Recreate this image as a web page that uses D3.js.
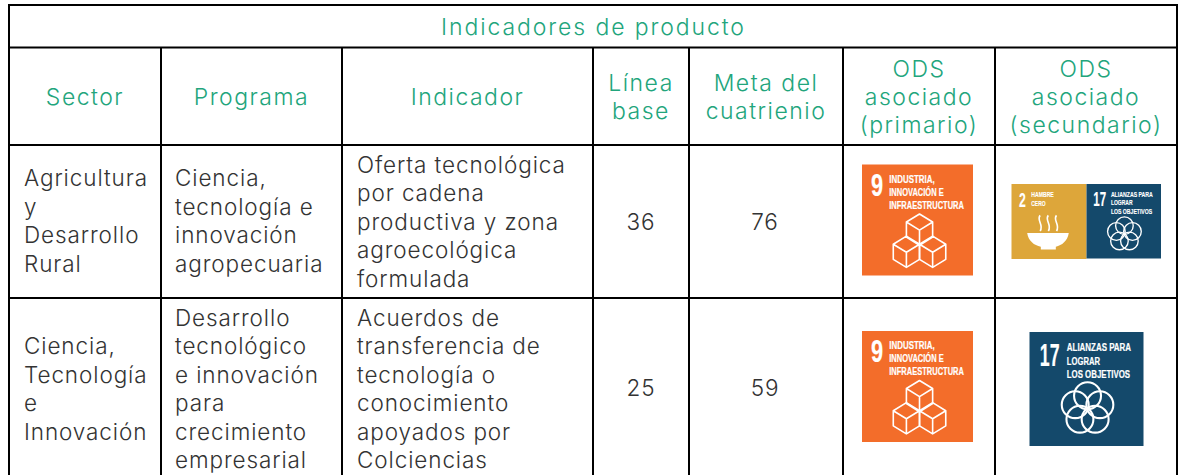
<!DOCTYPE html>
<html>
<head>
<meta charset="utf-8">
<script src="https://cdn.jsdelivr.net/npm/d3@7"></script>
<style>
html, body { margin: 0; padding: 0; background: #fff; overflow: hidden; }
svg { display: block; }
text { font-family: "Inter", sans-serif; font-weight: 300; }
.logoText { font-family: "Liberation Sans Narrow", "Liberation Sans", sans-serif; font-weight: 700; fill: #fff; stroke: #fff; stroke-width: 0.2; }
</style>
</head>
<body>
<div id="chart"></div>
<script>
const title = "Indicadores de producto";
const headers = [["Sector"], ["Programa"], ["Indicador"], ["Línea", "base"], ["Meta del", "cuatrienio"], ["ODS", "asociado", "(primario)"], ["ODS", "asociado", "(secundario)"]];
const sectors = [["Agricultura", "y", "Desarrollo", "Rural"], ["Ciencia,", "Tecnología", "e", "Innovación"]];
const programs = [["Ciencia,", "tecnología e", "innovación", "agropecuaria"], ["Desarrollo", "tecnológico", "e innovación", "para", "crecimiento", "empresarial"]];
const indicators = [["Oferta tecnológica", "por cadena", "productiva y zona", "agroecológica", "formulada"], ["Acuerdos de", "transferencia de", "tecnología o", "conocimiento", "apoyados por", "Colciencias"]];
const baseline = [36, 25];
const target = [76, 59];
const primaryOds = [[9], [9]];
const secondaryOds = [[2, 17], [17]];

const odsNames = {
    2: ["HAMBRE", "CERO"],
    9: ["INDUSTRIA,", "INNOVACIÓN E", "INFRAESTRUCTURA"],
    17: ["ALIANZAS PARA", "LOGRAR", "LOS OBJETIVOS"]
};
const odsColors = {2: "#dda63a", 9: "#f36d2a", 17: "#14496b"};

const green = "#22a57c";
const ink = "#333333";

const xLines = [9, 161, 342, 593, 689, 843, 995, 1177];
const yLines = [5, 47.5, 145, 298, 490];

// logo layout, all in a 110 box
const logoNum = {2: [11, 10, 33], 9: [9, 12, 31], 17: [10, 19, 33]};
const logoNameX = {2: 29, 9: 27, 17: 36};
const logoNameW = {2: [33, 21], 9: [45, 54, 74], 17: [62, 32, 61]};
const logoNameY = {2: [18.5, 32], 9: [18, 31, 44], 17: [18.5, 31.5, 44.5]};

const svg = d3.select("#chart").append("svg").attr("width", 1179).attr("height", 475);

function drawLines(g, lines, x, y, size, color, lead, anchor, spacing) {
    let startY = y - (lines.length - 1) * lead / 2;
    g.append("g").selectAll("text").data(lines).join("text")
        .attr("x", x)
        .attr("y", (d, i) => startY + i * lead)
        .attr("dy", "0.35em")
        .attr("text-anchor", anchor)
        .attr("font-size", size)
        .attr("letter-spacing", spacing)
        .attr("fill", color)
        .text(d => d);
}

// grid
const grid = svg.append("g").attr("stroke", "#000").attr("stroke-width", 2);
grid.selectAll("line.h").data(yLines.slice(0, 4)).join("line")
    .attr("x1", xLines[0] - 1).attr("x2", xLines[7] + 1)
    .attr("y1", d => d).attr("y2", d => d);
grid.selectAll("line.v").data(xLines).join("line")
    .attr("x1", d => d).attr("x2", d => d)
    .attr("y1", (d, i) => (i == 0 || i == 7) ? yLines[0] : yLines[1])
    .attr("y2", yLines[4]);

const txt = svg.append("g");
drawLines(txt, [title], 593.5, 27, 23, green, 0, "middle", 1.9);

headers.forEach((h, i) => {
    drawLines(txt, h, (xLines[i] + xLines[i + 1]) / 2, 97, 23, green, 28, "middle", 1.5);
});

const rowMid = [222, 388.5];
[0, 1].forEach(r => {
    drawLines(txt, sectors[r], 24, [221, 389][r], 22.5, ink, 28.5, "start", 0.9);
    drawLines(txt, programs[r], 175, [221, 389][r], 22.5, ink, 28.5, "start", 0.9);
    drawLines(txt, indicators[r], 357, [222, 389][r], 22.5, ink, 28.5, "start", 0.9);
    drawLines(txt, [String(baseline[r])], 641, rowMid[r], 22.5, ink, 28.5, "middle", 0.9);
    drawLines(txt, [String(target[r])], 765, rowMid[r], 22.5, ink, 28.5, "middle", 0.9);
});

function drawOds(parent, goal, x, y, size) {
    const k = size / 110;
    const g = parent.append("g").attr("transform", `translate(${x},${y}) scale(${k})`);
    g.append("rect").attr("width", 110).attr("height", 110).attr("fill", odsColors[goal]);
    g.append("text").attr("class", "logoText").attr("x", logoNum[goal][0]).attr("y", logoNum[goal][2])
        .attr("font-size", 31)
        .attr("textLength", logoNum[goal][1])
        .attr("lengthAdjust", "spacingAndGlyphs")
        .text(goal);
    g.append("g").selectAll("text").data(odsNames[goal]).join("text")
        .attr("class", "logoText")
        .attr("x", logoNameX[goal])
        .attr("y", (d, i) => logoNameY[goal][i])
        .attr("font-size", 11)
        .attr("textLength", (d, i) => logoNameW[goal][i])
        .attr("lengthAdjust", "spacingAndGlyphs")
        .text(d => d);
    const icon = g.append("g").attr("fill", "none").attr("stroke", "#fff").attr("stroke-width", 1.6).attr("stroke-linejoin", "round");
    if (goal == 9) {
        const cube = (cx, top) => {
            const s = 13, h = 8, side = 15;
            const path = d3.path();
            path.moveTo(cx, top);
            path.lineTo(cx + s, top + h);
            path.lineTo(cx + s, top + h + side);
            path.lineTo(cx, top + 2 * h + side);
            path.lineTo(cx - s, top + h + side);
            path.lineTo(cx - s, top + h);
            path.closePath();
            path.moveTo(cx - s, top + h);
            path.lineTo(cx, top + 2 * h);
            path.lineTo(cx + s, top + h);
            path.moveTo(cx, top + 2 * h);
            path.lineTo(cx, top + 2 * h + side);
            icon.append("path").attr("d", path.toString());
        };
        cube(57, 49);
        cube(44, 71);
        cube(70, 71);
    } else if (goal == 17) {
        d3.range(5).forEach(i => {
            const a = -Math.PI / 2 + i * 2 * Math.PI / 5;
            icon.append("circle").attr("stroke-width", 2).attr("cx", 56 + 12.5 * Math.cos(a)).attr("cy", 74 + 12.5 * Math.sin(a)).attr("r", 13);
        });
    } else {
        [42, 54, 66].forEach(px => {
            icon.append("path").attr("stroke-width", 2.4).attr("d", `M${px},46 C${px - 6},53 ${px + 6},60 ${px},69`);
        });
        g.append("path").attr("fill", "#fff").attr("d", "M23,72 H84 C82,84 74,90 65,92 V96 H43 V92 C33,90 25,84 23,72 Z");
    }
}

const icons = svg.append("g");
primaryOds.forEach((row, r) => drawOds(icons, row[0], 862, [164.5, 331][r], 111));
drawOds(icons, secondaryOds[0][0], 1011.5, 184, 75);
drawOds(icons, secondaryOds[0][1], 1086.5, 184, 74.5);
drawOds(icons, secondaryOds[1][0], 1029.5, 332, 114);
</script>
</body>
</html>
